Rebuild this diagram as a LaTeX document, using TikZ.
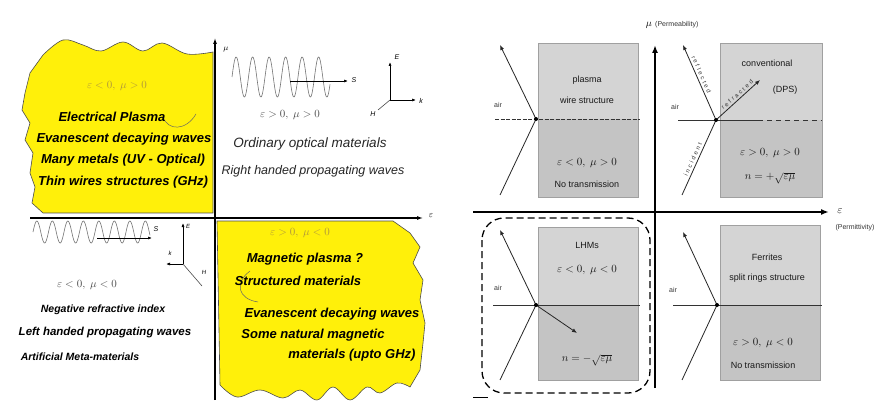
\documentclass[tikz,border=0pt]{standalone}
\usepackage{fontspec}
\setmainfont{Liberation Sans}
\usetikzlibrary{arrows.meta,calc}
\definecolor{blobyellow}{RGB}{255,240,10}
\definecolor{faint}{RGB}{175,150,60}
\definecolor{boxup}{RGB}{212,212,212}
\definecolor{boxlo}{RGB}{196,196,196}
\definecolor{boxedge}{RGB}{160,160,160}
\tikzset{
  ytext/.style={font=\fontsize{13}{15}\selectfont\bfseries\itshape, text=black, inner sep=0pt},
  ltext/.style={font=\fontsize{11.5}{13}\selectfont\bfseries\itshape, text=black, inner sep=0pt},
  otext/.style={font=\fontsize{12.5}{14}\selectfont\itshape, text=black!85, inner sep=0pt},
  condtext/.style={font=\fontsize{11}{13}\selectfont, text=faint, inner sep=0pt},
  smalltext/.style={font=\fontsize{9}{10}\selectfont, text=black!90, inner sep=0pt},
  mathtext/.style={font=\fontsize{11}{12}\selectfont, text=black!90, inner sep=0pt},
  airtext/.style={font=\fontsize{7}{8}\selectfont, text=black!80, inner sep=0pt},
  raytext/.style={font=\fontsize{6}{7}\selectfont\addfontfeature{LetterSpace=35}, text=black!80, inner sep=0pt},
  axlab/.style={font=\fontsize{7}{8}\selectfont, text=black!80, inner sep=0pt},
  blob/.style={fill=blobyellow, draw=black!70, line width=0.6pt},
  ray/.style={line width=0.8pt, draw=black!85},
  rayarrow/.style={ray, -{Latex[length=5pt,width=4pt]}},
  greybox/.style={draw=boxedge, line width=0.8pt},
  thinarrow/.style={line width=0.7pt, -{Latex[length=4pt,width=3pt]}},
}
\begin{document}
\begin{tikzpicture}[x=1pt,y=-1pt]
\useasboundingbox (0,0) rectangle (882,403);
\fill[white] (0,0) rectangle (882,403);

% ---------------- LEFT PANEL ----------------
% yellow blob top-left
\path[blob] (213,52) -- plot[smooth, tension=0.6] coordinates {(213,52) (187,54) (162,43) (143,51) (123,42) (101,51) (83,45) (63,40) (43,55)}
  -- (30,73) -- (25,93) -- (22,110) -- (30,123) -- (25,140) -- (33,153) -- (30,173) -- (35,187) -- (32,203) -- (43,213) -- (213,213) -- cycle;
% yellow blob bottom-right
\path[blob] (217,221) -- (393,221) -- (410,233) -- (420,247) -- (413,263) -- (423,280) -- (420,300) -- (425,323) -- (423,343) -- (420,370) -- (410,387)
  -- plot[smooth, tension=0.6] coordinates {(410,387) (397,383) (380,393) (367,387) (350,400) (333,387) (317,400) (300,390) (283,398) (260,390) (237,397) (220,385)}
  -- cycle;

% axes
\coordinate (lvb) at (215,400);
\coordinate (lvt) at (215,38);
\coordinate (lhl) at (30,218);
\coordinate (lhr) at (423,218);
\draw[line width=1.1pt, -{Latex[length=6pt,width=4pt]}] (lvb) -- (lvt);
\draw[line width=1.1pt, -{Latex[length=6pt,width=4pt]}] (lhl) -- (lhr);
\node[font=\fontsize{8}{9}\selectfont, inner sep=0pt] (lmu) at (226,50) {$\mu$};
\node[font=\fontsize{9}{10}\selectfont, inner sep=0pt] (leps) at (431,216) {$\varepsilon$};

% callout curves
\draw[black!60, line width=0.5pt] (163,117) .. controls (168,131) and (186,131) .. (196,114);
\draw[black!60, line width=0.5pt] (250,271) .. controls (234,283) and (238,299) .. (258,302);

% top-left texts
\node[condtext] (tl0) at (117,86) {$\varepsilon<0,\ \mu>0$};
\node[ytext] (tl1) at (112,117) {Electrical Plasma};
\node[ytext] (tl2) at (124,139) {Evanescent decaying waves};
\node[ytext] (tl3) at (123,160) {Many metals (UV - Optical)};
\node[ytext] (tl4) at (123,182) {Thin wires structures (GHz)};

% top-right wave and triad
\draw[black!55, line width=0.6pt] plot[domain=232:330, samples=200] (\x, {77 - 20*sin((\x-232)/16.5*360)});
\coordinate (twa) at (290,81);
\coordinate (twb) at (348,81);
\draw[thinarrow] (twa) -- (twb);
\node[font=\fontsize{7}{8}\selectfont\itshape, inner sep=0pt] (tws) at (354,80) {S};
\coordinate (to) at (390,100);
\coordinate (tE) at (390,62);
\coordinate (tk) at (416,100);
\coordinate (tH) at (378,110);
\draw[thinarrow] (to) -- (tE);
\draw[thinarrow] (to) -- (tk);
\draw[line width=0.6pt, black!70] (to) -- (tH);
\node[font=\fontsize{7}{8}\selectfont\itshape, inner sep=0pt] (tEl) at (397,57) {E};
\node[font=\fontsize{7}{8}\selectfont\itshape, inner sep=0pt] (tkl) at (421,101) {k};
\node[font=\fontsize{7}{8}\selectfont\itshape, inner sep=0pt] (tHl) at (373,114) {H};
\node[condtext, text=black!70] (tr0) at (290,115) {$\varepsilon>0,\ \mu>0$};
\node[otext, font=\fontsize{13.5}{15}\selectfont\itshape] (tr1) at (310,144) {Ordinary optical materials};
\node[otext] (tr2) at (313,171) {Right handed propagating waves};

% bottom-left wave and triad
\draw[black!55, line width=0.6pt] plot[domain=33:150, samples=220] (\x, {232 - 11*sin((\x-33)/15.5*360)});
\coordinate (bwa) at (97,238);
\coordinate (bwb) at (152,238);
\draw[thinarrow] (bwa) -- (bwb);
\node[font=\fontsize{7}{8}\selectfont\itshape, inner sep=0pt] (bws) at (156,229) {S};
\coordinate (bo) at (183,264);
\coordinate (bE) at (183,223);
\coordinate (bk) at (166,264);
\coordinate (bH) at (202,286);
\draw[thinarrow] (bo) -- (bE);
\draw[thinarrow] (bo) -- (bk);
\draw[line width=0.6pt, black!70] (bo) -- (bH);
\node[font=\fontsize{6}{7}\selectfont\itshape, inner sep=0pt] (bEl) at (188,226) {E};
\node[font=\fontsize{6}{7}\selectfont\itshape, inner sep=0pt] (bkl) at (170,253) {k};
\node[font=\fontsize{6}{7}\selectfont\itshape, inner sep=0pt] (bHl) at (204,272) {H};
\node[condtext, text=black!70] (bl0) at (87,285) {$\varepsilon<0,\ \mu<0$};
\node[ltext, font=\fontsize{10.5}{12}\selectfont\bfseries\itshape] (bl1) at (103,310) {Negative refractive index};
\node[ltext] (bl2) at (105,333) {Left handed propagating waves};
\node[ltext, font=\fontsize{10.5}{12}\selectfont\bfseries\itshape] (bl3) at (80,357) {Artificial Meta-materials};

% bottom-right texts
\node[condtext] (br0) at (300,233) {$\varepsilon>0,\ \mu<0$};
\node[ytext] (br1) at (305,259) {Magnetic plasma ?};
\node[ytext] (br2) at (298,281) {Structured materials};
\node[ytext] (br3) at (332,314) {Evanescent decaying waves};
\node[ytext] (br4) at (313,335) {Some natural magnetic};
\node[ytext] (br5) at (352,355) {materials (upto GHz)};

% ---------------- RIGHT PANEL ----------------
% grey boxes
\fill[boxup] (538,43) rectangle (638,119);
\fill[boxlo] (538,119) rectangle (638,197);
\draw[greybox] (538,43) rectangle (638,197);
\fill[boxup] (720,43) rectangle (822,120);
\fill[boxlo] (720,120) rectangle (822,197);
\draw[greybox] (720,43) rectangle (822,197);
\fill[boxup] (538,227) rectangle (638,305);
\fill[boxlo] (538,305) rectangle (638,380);
\draw[greybox] (538,227) rectangle (638,380);
\fill[boxup] (720,225) rectangle (820,305);
\fill[boxlo] (720,305) rectangle (820,380);
\draw[greybox] (720,225) rectangle (820,380);

% interfaces
\draw[black!80, line width=0.9pt, dash pattern=on 4pt off 1.5pt] (495,119) -- (640,119);
\draw[black!80, line width=0.9pt] (678,120) -- (758,120);
\draw[black!80, line width=0.9pt, dash pattern=on 5pt off 4pt] (758,120) -- (822,120);
\draw[black!80, line width=0.9pt] (493,305) -- (640,305);
\draw[black!80, line width=0.9pt] (673,305) -- (822,305);

% main axes
\coordinate (rvb) at (655,388);
\coordinate (rvt) at (655,45);
\coordinate (rhl) at (473,212);
\coordinate (rhr) at (829,212);
\draw[line width=2.2pt, -{Latex[length=8pt,width=6pt]}] (rvb) -- (rvt);
\draw[line width=2.2pt, -{Latex[length=8pt,width=6pt]}] (rhl) -- (rhr);
\node[font=\fontsize{10}{11}\selectfont, inner sep=0pt] (rmu) at (649,25) {$\mu$};
\node[axlab, anchor=west] (rperm) at (655,25) {(Permeability)};
\node[font=\fontsize{11}{12}\selectfont, inner sep=0pt] (reps) at (840,211) {$\varepsilon$};
\node[axlab] (rpermit) at (855,228) {(Permittivity)};

% dashed rounded rectangle
\draw[line width=1.3pt, dash pattern=on 7pt off 4pt, rounded corners=22pt] (482,218) rectangle (650,393);
\coordinate (sla) at (473,397);
\coordinate (slb) at (488,397);
\draw[line width=1pt] (sla) -- (slb);

% TL rays
\coordinate (p1) at (536,119);
\coordinate (p1i) at (500,195);
\coordinate (p1r) at (500,45);
\draw[ray] (p1i) -- (p1);
\draw[rayarrow] (p1) -- (p1r);
\fill (p1) circle (2pt);
% TR rays
\coordinate (p2) at (716,120);
\coordinate (p2i) at (682,195);
\coordinate (p2r) at (683,45);
\coordinate (p2t) at (760,80);
\draw[ray] (p2i) -- (p2);
\draw[rayarrow] (p2) -- (p2r);
\draw[rayarrow] (p2) -- (p2t);
\node[raytext, rotate=65.6] (lbinc) at ($(p2i)!0.45!(p2)+(-4.5,-2)$) {incident};
\node[raytext, rotate=-66.3] (lbref) at ($(p2)!0.58!(p2r)+(4.5,-2)$) {reflected};
\node[raytext, rotate=42.3] (lbrfr) at ($(p2)!0.55!(p2t)+(-3,-3.3)$) {refracted};
\fill (p2) circle (2pt);
% BL rays
\coordinate (p3) at (536,305);
\coordinate (p3i) at (500,380);
\coordinate (p3r) at (500,230);
\coordinate (p3t) at (577,333);
\draw[ray] (p3i) -- (p3);
\draw[rayarrow] (p3) -- (p3r);
\draw[rayarrow] (p3) -- (p3t);
\fill (p3) circle (2pt);
% BR rays
\coordinate (p4) at (717,305);
\coordinate (p4i) at (682,380);
\coordinate (p4r) at (683,232);
\draw[ray] (p4i) -- (p4);
\draw[rayarrow] (p4) -- (p4r);
\fill (p4) circle (2pt);

% air labels
\node[airtext] (air1) at (498,105) {air};
\node[airtext] (air2) at (675,107) {air};
\node[airtext] (air3) at (498,288) {air};
\node[airtext] (air4) at (673,290) {air};

% box texts
\node[smalltext] (q1a) at (587,80) {plasma};
\node[smalltext] (q1b) at (587,100) {wire structure};
\node[mathtext] (q1c) at (587,163) {$\varepsilon<0,\ \mu>0$};
\node[smalltext] (q1d) at (587,184) {No transmission};
\node[smalltext] (q2a) at (767,63) {conventional};
\node[smalltext] (q2b) at (785,90) {(DPS)};
\node[mathtext] (q2c) at (770,153) {$\varepsilon>0,\ \mu>0$};
\node[mathtext] (q2d) at (770,178) {$n=+\sqrt{\varepsilon\mu}$};
\node[smalltext] (q3a) at (587,245) {LHMs};
\node[mathtext] (q3b) at (587,270) {$\varepsilon<0,\ \mu<0$};
\node[mathtext] (q3c) at (587,360) {$n=-\sqrt{\varepsilon\mu}$};
\node[smalltext] (q4a) at (767,257) {Ferrites};
\node[smalltext] (q4b) at (767,278) {split rings structure};
\node[mathtext] (q4c) at (763,343) {$\varepsilon>0,\ \mu<0$};
\node[smalltext] (q4d) at (763,365) {No transmission};
\end{tikzpicture}
\end{document}
